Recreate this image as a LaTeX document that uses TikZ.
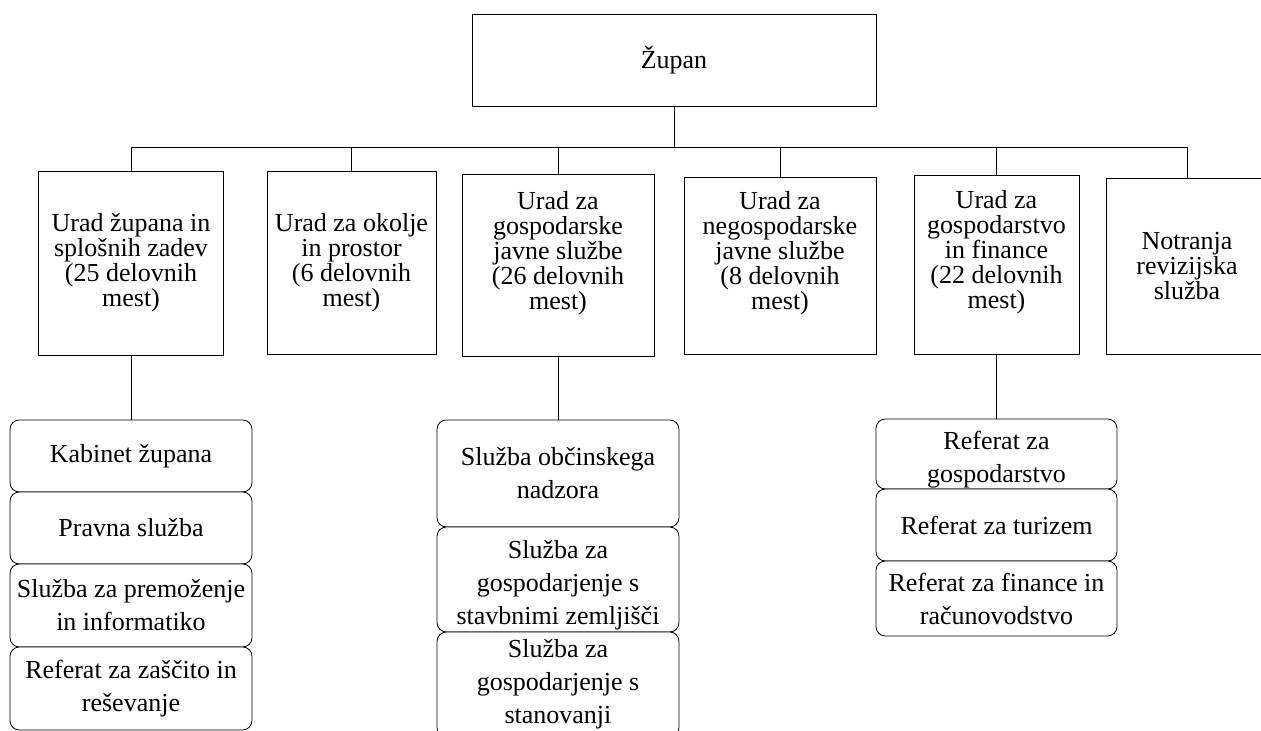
\documentclass[tikz,border=0pt]{standalone}
\usepackage{fontspec}
\setmainfont{Liberation Serif}
\usepackage{tikz}

\newcommand{\gornji}{\rule{0pt}{22pt}}
\newcommand{\spodnji}{\rule[-22pt]{0pt}{22pt}}

\begin{document}
\begin{tikzpicture}[x=0.75pt, y=-0.75pt,
  urad/.style={draw=black, semithick, fill=white, align=center, inner sep=2pt,
    font=\fontsize{19.5}{18.75}\selectfont},
  sluzba/.style={draw=black, semithick, fill=white, rounded corners=7pt, align=center,
    inner sep=2pt, font=\fontsize{19.5}{24.75}\selectfont},
  povezava/.style={black, semithick}]
\clip (0,0) rectangle (1261,731);
\fill[white] (0,0) rectangle (1261,731);

% vrh
\node[urad, minimum width=303pt, minimum height=69pt] (zupan) at (674,60) {Župan};

% uradi
\node[urad, minimum width=138.75pt, minimum height=138pt] (u1) at (131,263)
  {Urad župana in\\splošnih zadev\\(25 delovnih\\mest)};
\node[urad, minimum width=126.75pt, minimum height=137.25pt] (u2) at (351.5,262.5)
  {Urad za okolje\\in prostor\\(6 delovnih\\mest)};
\node[urad, minimum width=144pt, minimum height=136.5pt] (u3) at (558,265)
  {Urad za\\gospodarske\\javne službe\\(26 delovnih\\mest)\spodnji};
\node[urad, minimum width=144pt, minimum height=132.75pt] (u4) at (780,265.5)
  {Urad za\\negospodarske\\javne službe\\(8 delovnih\\mest)\spodnji};
\node[urad, minimum width=123.75pt, minimum height=134.25pt] (u5) at (996.5,264.5)
  {Urad za\\gospodarstvo\\in finance\\(22 delovnih\\mest)\spodnji};
\node[urad, minimum width=121.5pt, minimum height=132pt] (u6) at (1187,266)
  {Notranja\\revizijska\\služba};

% sluzbe pod uradom zupana
\node[sluzba, minimum width=181.5pt, minimum height=54pt] (k1) at (131,456) {Kabinet župana};
\node[sluzba, minimum width=181.5pt, minimum height=54pt] (k2) at (131,528) {Pravna služba};
\node[sluzba, minimum width=181.5pt, minimum height=62.25pt] (k3) at (131,605.5)
  {Služba za premoženje\\in informatiko};
\node[sluzba, minimum width=181.5pt, minimum height=62.25pt] (k4) at (131,688.5)
  {Referat za zaščito in\\reševanje};

% sluzbe pod uradom za gospodarske javne sluzbe
\node[sluzba, minimum width=181.5pt, minimum height=80.25pt] (s1) at (558,473.5)
  {Služba občinskega\\nadzora};
\node[sluzba, minimum width=181.5pt, minimum height=78.75pt, inner ysep=0pt] (s2) at (558,579.5)
  {\gornji Služba za\\gospodarjenje s\\stavbnimi zemljišči};
\node[sluzba, minimum width=181.5pt, minimum height=78.75pt] (s3) at (558,684.5)
  {Služba za\\gospodarjenje s\\stanovanji};

% referati pod uradom za gospodarstvo in finance
\node[sluzba, minimum width=180.75pt, minimum height=52.5pt, inner ysep=0pt] (r1) at (996.5,454)
  {\gornji Referat za\\gospodarstvo};
\node[sluzba, minimum width=180.75pt, minimum height=54pt] (r2) at (996.5,525) {Referat za turizem};
\node[sluzba, minimum width=180.75pt, minimum height=56.25pt] (r3) at (996.5,598.5)
  {Referat za finance in\\računovodstvo};

% povezave
\coordinate (bus) at (674,147);
\draw[povezava] (zupan.south) -- (bus);
\foreach \u in {u1,u2,u3,u4,u5,u6}
  \draw[povezava] (\u.north) |- (bus);
\draw[povezava] (u1.south) -- (u1.south |- k1.north);
\draw[povezava] (u3.south) -- (u3.south |- s1.north);
\draw[povezava] (u5.south) -- (u5.south |- r1.north);
\end{tikzpicture}
\end{document}
